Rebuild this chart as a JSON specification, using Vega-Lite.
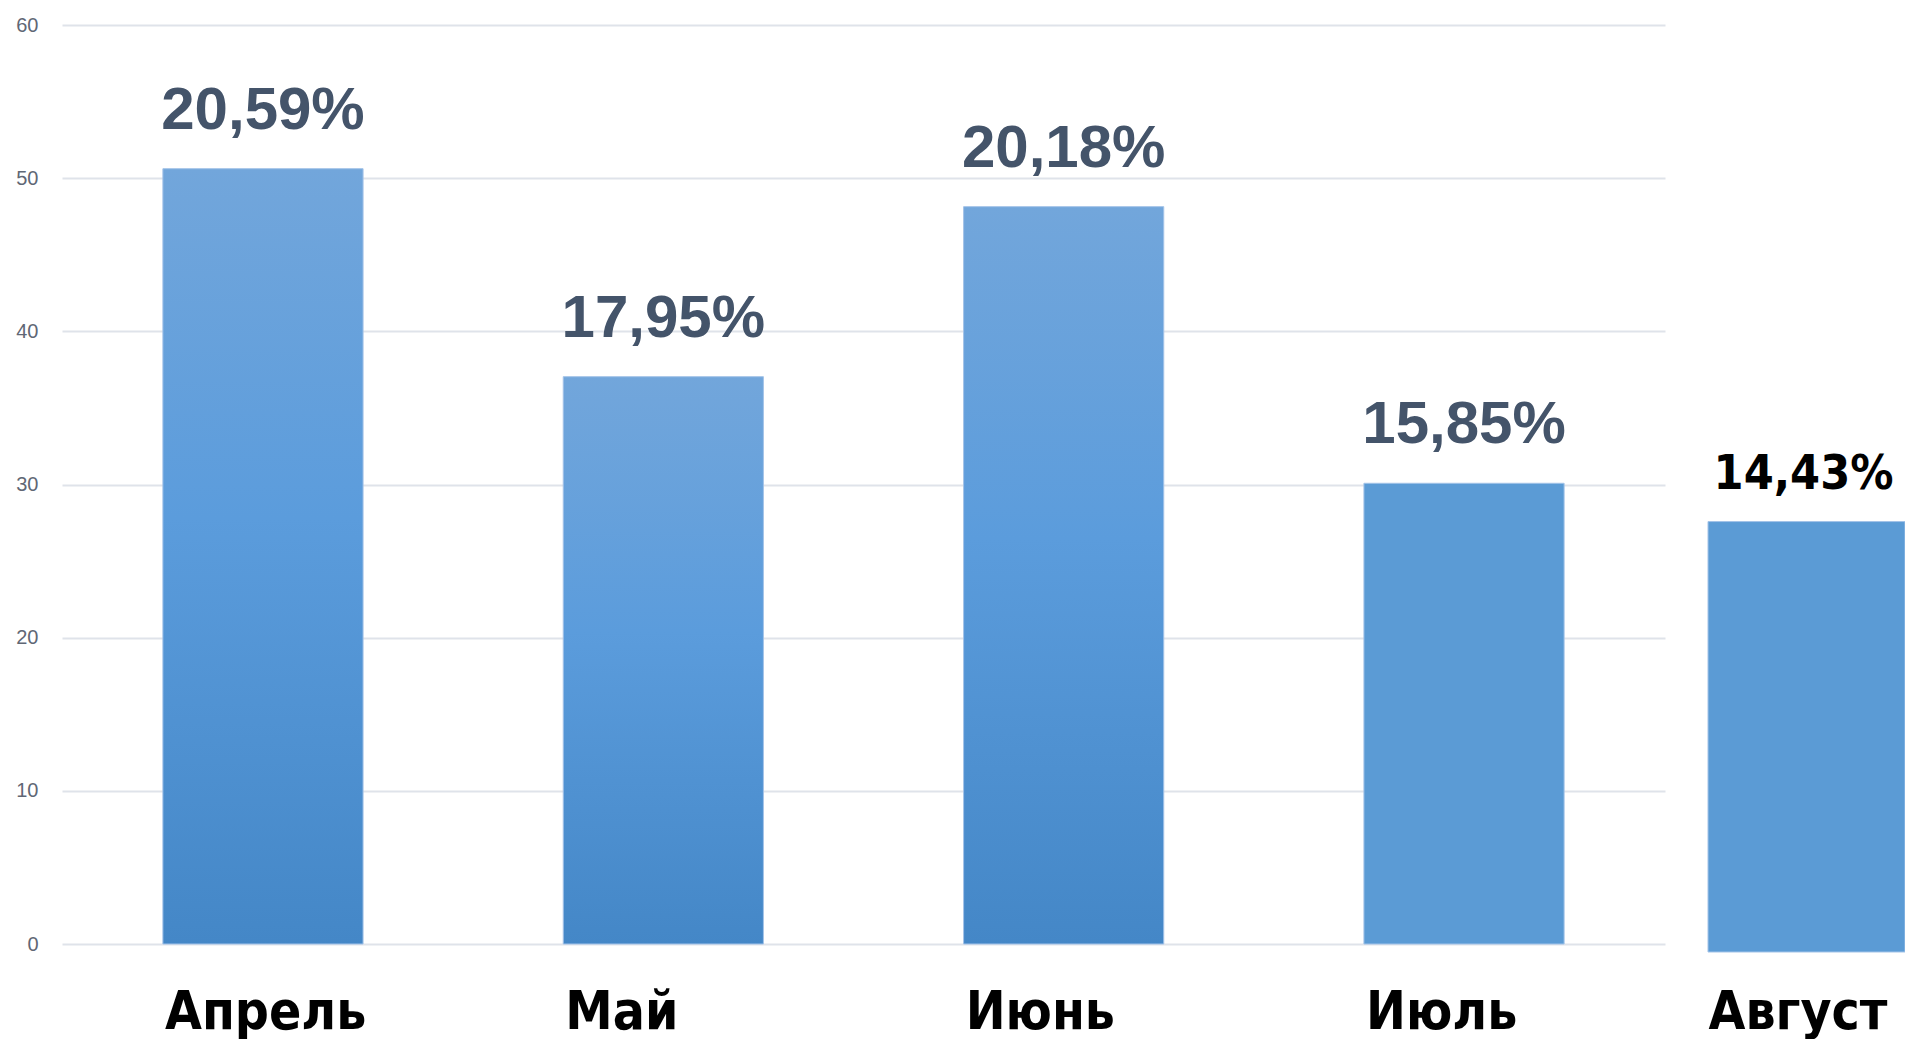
{
  "$schema": "https://vega.github.io/schema/vega-lite/v6.json",
  "padding": {"left": 15, "top": 15, "right": 0, "bottom": 0},
  "background": "white",
  "data": {
    "values": [
      {"month": "Апрель", "value": 50.62, "label": "20,59%"},
      {"month": "Май", "value": 37.04, "label": "17,95%"},
      {"month": "Июнь", "value": 48.14, "label": "20,18%"},
      {"month": "Июль", "value": 30.08, "label": "15,85%"},
      {"month": "Август", "value": 27.86, "label": "14,43%"}
    ]
  },
  "spacing": 42,
  "hconcat": [
    {
      "width": 1603,
      "height": 919,
      "transform": [{"filter": "datum.month !== 'Август'"}],
      "encoding": {
        "x": {
          "field": "month",
          "type": "nominal",
          "sort": null,
          "scale": {"paddingInner": 0.5, "paddingOuter": 0.252},
          "axis": {
            "title": null,
            "domain": false,
            "ticks": false,
            "tickSize": 0,
            "labelAngle": 0,
            "labelAlign": "left",
            "labelOffset": -98,
            "labelLimit": 0,
            "labelPadding": 42,
            "labelFont": "DejaVu Sans Condensed, DejaVu Sans, Open Sans",
            "labelFontWeight": "bold",
            "labelFontSize": 53,
            "labelColor": "#000000"
          }
        },
        "y": {
          "field": "value",
          "type": "quantitative",
          "scale": {"domain": [0, 60], "nice": false},
          "axis": {
            "title": null,
            "domain": false,
            "ticks": false,
            "tickSize": 0,
            "values": [0, 10, 20, 30, 40, 50, 60],
            "labelPadding": 24,
            "labelFont": "Liberation Sans Narrow, Liberation Sans",
            "labelFontSize": 20,
            "labelColor": "#5F6775",
            "grid": true,
            "gridColor": "#DFE3EA",
            "gridWidth": 2
          }
        }
      },
      "layer": [
        {
          "transform": [{"filter": {"field": "month", "oneOf": ["Апрель", "Май", "Июнь"]}}],
          "mark": {
            "type": "bar",
            "stroke": "#A3C3E8",
            "strokeWidth": 1,
            "color": {
              "gradient": "linear",
              "x1": 0, "y1": 0, "x2": 0, "y2": 1,
              "stops": [
                {"offset": 0, "color": "#72A6DB"},
                {"offset": 0.45, "color": "#5B9CDC"},
                {"offset": 1, "color": "#4487C7"}
              ]
            }
          }
        },
        {
          "transform": [{"filter": "datum.month === 'Июль'"}],
          "mark": {"type": "bar", "color": "#5B9BD5", "stroke": "#A3C3E8", "strokeWidth": 1}
        },
        {
          "mark": {
            "type": "text",
            "baseline": "alphabetic",
            "align": "center",
            "dy": -40,
            "font": "Liberation Sans Narrow, Liberation Sans",
            "fontWeight": "bold",
            "fontSize": 60,
            "color": "#44546A"
          },
          "encoding": {"text": {"field": "label"}}
        }
      ]
    },
    {
      "width": 197,
      "height": 927,
      "transform": [{"filter": "datum.month === 'Август'"}],
      "encoding": {
        "x": {
          "field": "month",
          "type": "nominal",
          "scale": {"paddingInner": 0, "paddingOuter": 0},
          "axis": {
            "title": null,
            "domain": false,
            "ticks": false,
            "tickSize": 0,
            "grid": false,
            "labelAngle": 0,
            "labelAlign": "left",
            "labelOffset": -98,
            "labelLimit": 0,
            "labelPadding": 34,
            "labelFont": "DejaVu Sans Condensed, DejaVu Sans, Open Sans",
            "labelFontWeight": "bold",
            "labelFontSize": 53,
            "labelColor": "#000000"
          }
        },
        "y": {
          "field": "value",
          "type": "quantitative",
          "scale": {"domain": [0, 60], "nice": false},
          "axis": null
        }
      },
      "layer": [
        {
          "mark": {"type": "bar", "color": "#5B9BD5", "stroke": "#A3C3E8", "strokeWidth": 1}
        },
        {
          "mark": {
            "type": "text",
            "baseline": "alphabetic",
            "align": "center",
            "dy": -33,
            "dx": -3,
            "font": "DejaVu Sans Condensed, DejaVu Sans, Open Sans",
            "fontWeight": "bold",
            "fontSize": 48,
            "color": "#000000"
          },
          "encoding": {"text": {"field": "label"}}
        }
      ]
    }
  ],
  "config": {"view": {"stroke": null}}
}
